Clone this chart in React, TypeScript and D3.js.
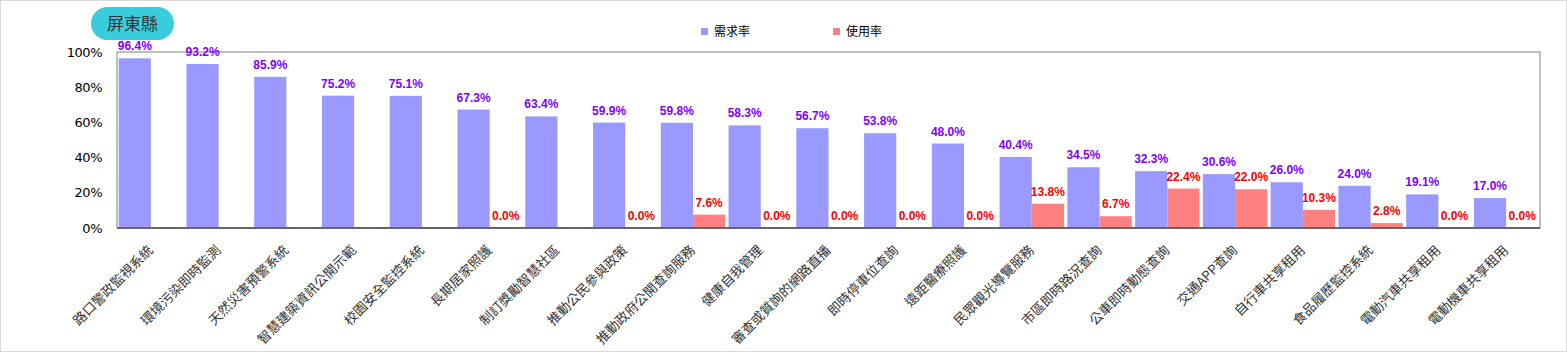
import React from "react";
import * as d3 from "d3";

const categories = ["路口警政監視系統","環境污染即時監測","天然災害預警系統","智慧建築資訊公開示範","校園安全監控系統","長期居家照護","制訂獎勵智慧社區","推動公民參與政策","推動政府公開查詢服務","健康自我管理","審查或質詢的網路直播","即時停車位查詢","遠距醫療照護","民眾觀光導覽服務","市區即時路況查詢","公車即時動態查詢","交通APP查詢","自行車共享租用","食品履歷監控系統","電動汽車共享租用","電動機車共享租用"];
const demand = [96.4,93.2,85.9,75.2,75.1,67.3,63.4,59.9,59.8,58.3,56.7,53.8,48.0,40.4,34.5,32.3,30.6,26.0,24.0,19.1,17.0];
const usage: (number|null)[] = [null,null,null,null,null,0.0,null,0.0,7.6,0.0,0.0,0.0,0.0,13.8,6.7,22.4,22.0,10.3,2.8,0.0,0.0];
const yTicks = [0,20,40,60,80,100];
const seriesNames = ["需求率","使用率"];
const title = "屏東縣";

const W = 1567, H = 352;
const L = 117, R = 1540, T = 52, B = 228;
const BLUE = "#9999FF", RED = "#FF8080";

export default function App() {
  const x = d3.scaleBand<string>().domain(categories).range([L, R]).paddingInner(0.05).paddingOuter(0.025);
  const y = d3.scaleLinear().domain([0, 100]).range([B, T]);
  const bw = x.bandwidth() / 2;
  const font = "Arial, 'Liberation Sans', sans-serif";
  return (
    <div style={{ position: "absolute", left: 0, top: 0 }}>
      <svg width={W} height={H} style={{ display: "block" }}>
        <rect x={0.5} y={0.5} width={W - 1} height={H - 1} fill="#fff" stroke="#d9d9d9" />
        <rect x={91} y={7} width={83} height={33} rx={16.5} fill="#38CCDD" />
        <text x={132.5} y={29.5} textAnchor="middle" fontSize={17} fill="#333" fontFamily="'Noto Sans CJK TC', sans-serif">{title}</text>
        {/* legend */}
        <rect x={701} y={28} width={7} height={7} fill={BLUE} />
        <text x={714} y={36} fontSize={12} fill="#000" fontFamily="'Noto Sans CJK TC', sans-serif">{seriesNames[0]}</text>
        <rect x={833} y={28} width={7} height={7} fill={RED} />
        <text x={846} y={36} fontSize={12} fill="#000" fontFamily="'Noto Sans CJK TC', sans-serif">{seriesNames[1]}</text>
        {/* plot frame */}
        <rect x={L} y={T} width={R - L} height={B - T} fill="none" stroke="#808080" strokeWidth={1} />
        {yTicks.map(t => (
          <text key={t} x={102} y={y(t) + 4.5} textAnchor="end" fontSize={13} fill="#000" fontFamily="'DejaVu Sans', sans-serif" style={{ letterSpacing: "-0.5px" }}>{t}%</text>
        ))}
        {categories.map((c, i) => {
          const x0 = x(c)!;
          const u = usage[i];
          return (
            <g key={c}>
              <rect x={x0} y={y(demand[i])} width={bw} height={B - y(demand[i])} fill={BLUE} />
              <text x={x0 + bw / 2} y={y(demand[i]) - 8} textAnchor="middle" fontSize={12} fontWeight="bold" fill="#7F00FF" fontFamily={font}>{demand[i].toFixed(1)}%</text>
              {u !== null && (
                <>
                  <rect x={x0 + bw} y={y(u)} width={bw} height={B - y(u)} fill={RED} />
                  <text x={x0 + bw * 1.5} y={y(u) - 8} textAnchor="middle" fontSize={12} fontWeight="bold" fill="#FF0000" fontFamily={font}>{u.toFixed(1)}%</text>
                </>
              )}
              <text transform={`translate(${x0 + bw + 3},${251}) rotate(-45)`} textAnchor="end" fontSize={13.3} fill="#333" fontFamily="'Noto Sans CJK TC', sans-serif">{c}</text>
            </g>
          );
        })}
        <line x1={L} x2={R} y1={B} y2={B} stroke="#666" strokeWidth={2} />
      </svg>
    </div>
  );
}
